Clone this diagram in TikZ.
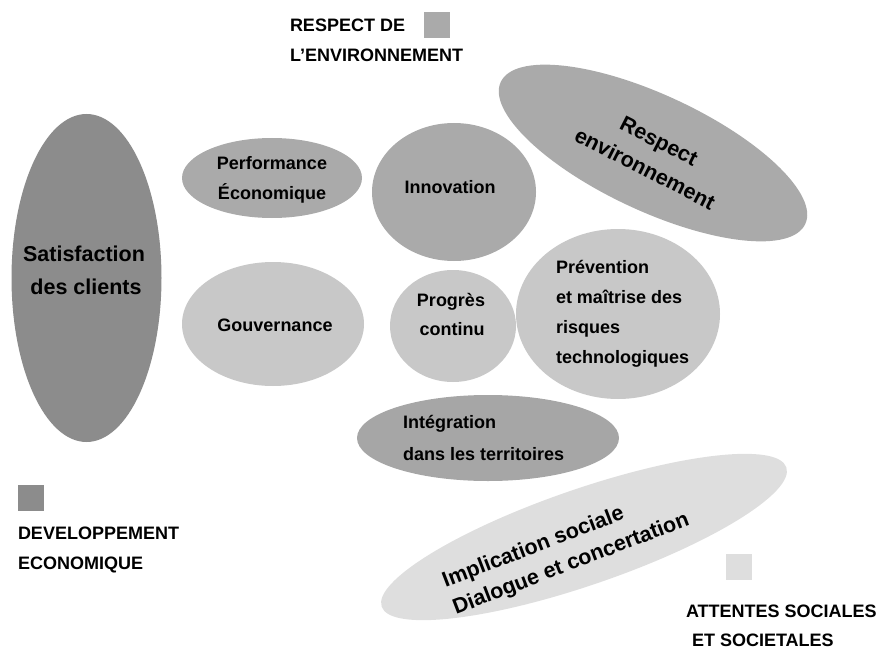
\documentclass[tikz,border=0pt]{standalone}
\usepackage{fontspec}
\setmainfont{Liberation Sans}
\definecolor{cdark}{HTML}{8C8C8C}
\definecolor{cmid}{HTML}{AAAAAA}
\definecolor{cint}{HTML}{A6A6A6}
\definecolor{clight}{HTML}{C8C8C8}
\definecolor{cpale}{HTML}{DEDEDE}
\begin{document}
\begin{tikzpicture}[x=1pt,y=-1pt,
  every node/.style={inner sep=0pt, outer sep=0pt},
  txt/.style={font=\fontsize{18}{30}\selectfont\bfseries, anchor=base},
  txtl/.style={font=\fontsize{18}{30}\selectfont\bfseries, anchor=base west},
  bigtxt/.style={font=\fontsize{21.5}{33}\selectfont\bfseries, anchor=base},
  rottxt/.style={font=\fontsize{21.5}{31}\selectfont\bfseries},
  legsq/.style={minimum width=26pt, minimum height=26pt, anchor=north west}]
\useasboundingbox (0,0) rectangle (883,650);
% ellipses
\fill[cdark] (86.5,278) ellipse [x radius=75, y radius=164];
\fill[cmid] (272,178) ellipse [x radius=90, y radius=40];
\fill[cmid] (454,192) ellipse [x radius=82, y radius=69];
\fill[cmid, rotate around={-25:(653,153)}] (653,153) ellipse [x radius=168, y radius=58];
\fill[clight] (273,324) ellipse [x radius=91, y radius=62];
\fill[clight] (453,326) ellipse [x radius=63, y radius=56];
\fill[clight] (618,314) ellipse [x radius=102, y radius=85];
\fill[cint] (488,438) ellipse [x radius=131, y radius=43];
\fill[cpale, rotate around={19:(584,537)}] (584,537) ellipse [x radius=214, y radius=48];
% legend squares
\node[legsq, fill=cmid] (sqenv) at (424,12) {};
\node[legsq, fill=cdark] (sqeco) at (18,485) {};
\node[legsq, fill=cpale] (sqsoc) at (726,554) {};
% legend labels
\node[txtl] (env1) at (290,32) {RESPECT DE};
\node[txtl] (env2) at (290,62) {L’ENVIRONNEMENT};
\node[txtl] (eco1) at (18,539) {DEVELOPPEMENT};
\node[txtl] (eco2) at (18,569) {ECONOMIQUE};
\node[txtl] (soc1) at (686,617) {ATTENTES SOCIALES};
\node[txtl] (soc2) at (692,646) {ET SOCIETALES};
% ellipse labels
\node[bigtxt] (sat1) at (84,261) {Satisfaction};
\node[bigtxt] (sat2) at (86,294) {des clients};
\node[txt] (perf1) at (272,169) {Performance};
\node[txt] (perf2) at (272,199) {Économique};
\node[txt] (inno) at (450,193) {Innovation};
\node[txt] (gouv) at (275,331) {Gouvernance};
\node[txt] (prog1) at (451,306) {Progrès};
\node[txt] (prog2) at (452,335) {continu};
\node[txtl] (prev1) at (556,273) {Prévention};
\node[txtl] (prev2) at (556,303) {et maîtrise des};
\node[txtl] (prev3) at (556,333) {risques};
\node[txtl] (prev4) at (556,363) {technologiques};
\node[txtl] (integ1) at (403,428) {Intégration};
\node[txtl] (integ2) at (403,460) {dans les territoires};
\node[rottxt, rotate=-27, align=center] (renv) at (652,155) {Respect\\environnement};
\node[rottxt, rotate=21, align=left, font=\fontsize{21.5}{29}\selectfont\bfseries] (impl) at (566,551) {Implication sociale\\Dialogue et concertation};
\end{tikzpicture}
\end{document}
